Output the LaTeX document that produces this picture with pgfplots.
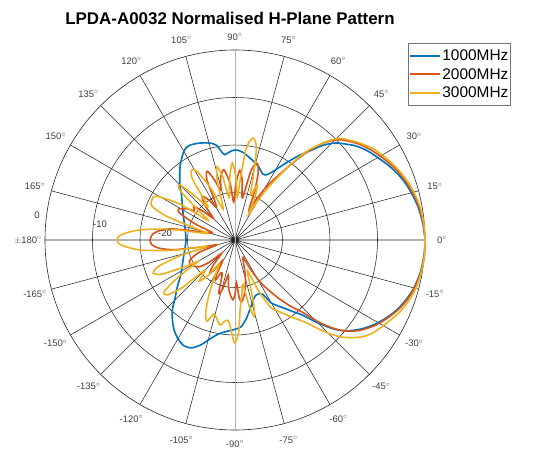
\documentclass[border=0pt]{standalone}
\usepackage{pgfplots}
\pgfplotsset{compat=1.18}
\usepackage{pgfplotstable}
\usepgfplotslibrary{polar}
\usepackage{fontspec}
\setmainfont{Liberation Sans}

\definecolor{c1}{RGB}{0,114,189}
\definecolor{c2}{RGB}{217,83,25}
\definecolor{c3}{RGB}{237,177,32}

% angle (deg) and normalised gain (dB)
\pgfplotstableread[row sep=\\]{
a d\\
-180 -29.7\\ -170 -29.3\\ -160 -28.4\\ -150 -27.0\\ -145 -25.8\\ -140 -24.0\\ -136 -22.5\\ -132 -20.3\\
-128 -18.6\\ -124 -17.1\\ -120 -16.0\\ -116 -15.3\\ -112 -15.5\\ -108 -16.8\\ -104 -18.6\\ -100 -19.9\\
-95 -20.7\\ -90 -21.2\\ -86 -21.7\\ -82 -23.2\\ -78 -25.0\\ -74 -26.5\\ -70 -27.5\\ -66 -27.6\\
-63 -27.2\\ -60 -24.7\\ -57 -23.5\\ -54 -22.2\\ -51 -20.6\\ -48 -18.7\\ -45 -15.3\\ -42 -12.0\\
-39 -9.6\\ -35 -7.4\\ -31 -5.6\\ -27 -4.1\\ -23 -2.8\\ -19 -1.8\\ -15 -1.0\\ -10 -0.4\\ -5 -0.1\\
0 0\\ 5 -0.3\\ 10 -0.8\\ 14 -1.4\\ 18 -2.1\\ 22 -3.0\\ 26 -4.1\\ 30 -5.3\\ 34 -6.4\\ 38 -7.8\\
41 -9.2\\ 44 -10.6\\ 47 -12.7\\ 50 -15.5\\ 53 -17.8\\ 56 -20.2\\ 59 -22.3\\ 62 -24.0\\ 65 -24.9\\
68 -24.8\\ 72 -23.8\\ 76 -23.1\\ 80 -22.4\\ 84 -21.6\\ 88 -21.1\\ 91 -21.1\\ 94 -21.5\\ 97 -21.9\\
99 -21.0\\ 101 -19.7\\ 104 -19.0\\ 108 -18.5\\ 112 -18.1\\ 116 -17.9\\ 119 -18.2\\ 122 -19.1\\
126 -20.4\\ 130 -21.9\\ 135 -23.6\\ 140 -25.3\\ 147 -26.8\\ 155 -28.0\\ 162 -28.8\\ 170 -29.4\\ 180 -29.7\\
}\tblA

\pgfplotstableread[row sep=\\]{
a d\\
-180 -22.1\\ -177 -22.4\\ -174 -23.8\\ -171 -27.0\\ -168 -33.0\\ -165 -36.0\\ -161 -32.0\\ -156 -29.6\\
-151 -29.2\\ -147 -29.8\\ -143 -30.6\\ -139 -33.0\\ -135 -36.0\\ -131 -33.0\\ -127 -31.2\\ -124 -33.0\\
-121 -35.0\\ -118 -31.5\\ -116 -30.6\\ -113 -32.5\\ -110 -32.0\\ -107 -28.2\\ -104 -29.5\\ -101 -32.5\\
-98 -30.0\\ -95 -28.5\\ -92 -27.4\\ -90 -28.5\\ -88 -31.0\\ -86 -28.0\\ -84 -26.9\\ -81 -28.0\\
-78 -29.7\\ -75 -31.5\\ -72 -33.5\\ -68 -35.5\\ -65 -36.0\\ -62 -33.0\\ -59 -29.5\\ -56 -27.2\\
-53 -24.5\\ -50 -21.8\\ -47 -19.2\\ -44 -14.7\\ -41 -11.2\\ -38 -8.8\\ -35 -7.1\\ -31 -5.3\\
-27 -3.9\\ -23 -2.6\\ -19 -1.6\\ -15 -0.9\\ -10 -0.3\\ -5 0\\ 0 0\\ 5 -0.2\\ 10 -0.6\\ 14 -1.1\\
18 -1.8\\ 22 -2.6\\ 26 -3.6\\ 30 -4.7\\ 34 -5.8\\ 38 -7.1\\ 41 -8.3\\ 44 -9.6\\ 47 -11.8\\ 50 -15.0\\
53 -19.5\\ 56 -23.5\\ 59 -26.5\\ 62 -30.0\\ 65 -33.0\\ 68 -29.0\\ 71 -25.0\\ 74 -23.2\\ 77 -25.0\\
80 -31.0\\ 83 -27.5\\ 86 -25.3\\ 89 -28.0\\ 92 -32.0\\ 95 -28.0\\ 99 -25.0\\ 103 -26.5\\ 106 -29.0\\
109 -26.5\\ 112 -24.4\\ 115 -26.0\\ 119 -32.0\\ 123 -30.0\\ 127 -28.5\\ 131 -30.5\\ 135 -33.5\\
138 -31.0\\ 141 -28.8\\ 144 -29.5\\ 147 -28.0\\ 151 -26.5\\ 154 -27.0\\ 158 -31.0\\ 162 -35.0\\
166 -33.0\\ 170 -26.5\\ 173 -24.0\\ 176 -22.6\\ 180 -22.1\\
}\tblB

\pgfplotstableread[row sep=\\]{
a d\\
-180 -15.2\\ -178 -15.6\\ -176 -17.5\\ -174 -19.9\\ -172 -24.0\\ -170 -28.0\\ -167 -34.0\\ -164 -28.0\\
-161 -23.0\\ -158 -21.4\\ -155 -23.0\\ -152 -28.0\\ -150 -31.0\\ -147 -26.0\\ -144 -21.6\\ -141 -21.6\\
-138 -25.0\\ -135 -31.0\\ -131 -28.5\\ -127 -30.7\\ -124 -34.0\\ -121 -33.0\\ -118 -30.0\\ -115 -26.8\\
-112 -23.5\\ -109 -21.9\\ -106 -23.8\\ -103 -23.0\\ -100 -21.8\\ -97 -22.8\\ -95 -23.0\\ -93 -21.7\\
-91 -19.0\\ -90 -18.3\\ -89 -19.0\\ -87.5 -21.0\\ -86 -24.9\\ -83 -28.3\\ -80 -30.5\\ -78 -26.0\\
-76 -23.4\\ -74 -25.5\\ -71 -30.5\\ -68 -33.0\\ -65 -28.0\\ -62 -23.9\\ -59 -22.6\\ -55 -20.6\\
-52 -18.9\\ -49 -16.8\\ -46 -13.4\\ -43 -10.2\\ -40 -8.0\\ -37 -6.2\\ -34 -5.0\\ -31 -4.2\\
-27 -3.1\\ -23 -2.0\\ -19 -1.2\\ -15 -0.6\\ -10 -0.2\\ -5 0\\ 0 0\\ 5 -0.1\\ 10 -0.4\\ 14 -0.9\\
18 -1.5\\ 22 -2.3\\ 26 -3.2\\ 30 -4.2\\ 34 -5.3\\ 38 -6.8\\ 41 -8.0\\ 44 -9.2\\ 47 -11.6\\ 50 -14.8\\
52 -17.4\\ 54 -21.0\\ 56 -24.5\\ 58 -27.5\\ 60 -30.5\\ 62 -34.0\\ 65 -30.0\\ 68 -27.5\\ 71 -30.0\\
74 -26.0\\ 77 -20.0\\ 80 -18.2\\ 83 -20.5\\ 85 -27.0\\ 87 -31.0\\ 89 -27.0\\ 92 -23.8\\ 95 -27.0\\
98 -31.0\\ 101 -26.5\\ 104 -24.1\\ 107 -27.5\\ 111 -33.0\\ 115 -28.0\\ 119 -23.5\\ 122 -22.7\\
125 -24.5\\ 129 -31.0\\ 132 -28.0\\ 135 -23.5\\ 138 -24.5\\ 141 -30.0\\ 144 -33.0\\ 147 -26.0\\
151 -21.0\\ 155 -20.6\\ 158 -21.2\\ 161 -25.0\\ 164 -32.0\\ 167 -34.0\\ 170 -28.0\\ 172 -23.5\\
174 -19.8\\ 176 -17.3\\ 178 -15.6\\ 180 -15.2\\
}\tblC

\begin{document}
\begin{tikzpicture}
\begin{polaraxis}[
    scale only axis, width=380bp, height=380bp,
    xmin=0, xmax=360, ymin=0, ymax=40,
    xtick={0,15,...,75,105,120,...,255,285,300,...,345},
    ytick={10,20,30},
    xticklabel=\relax, yticklabel=\relax,
    major tick length=0pt,
    grid=major,
    major grid style={black!85, line width=0.55bp},
    extra x ticks={90,270},
    extra x tick labels={},
    extra x tick style={grid=major, major grid style={black!30, line width=0.7bp}, xticklabel=\relax},
    separate axis lines,
    x axis line style={black!85, line width=0.6bp},
    y axis line style={draw=none},
    clip=false,
    legend cell align=left,
    legend style={at={(1.226,1.018)}, anchor=north east,
        draw=black!55, line width=0.5bp, inner xsep=1bp, inner ysep=5bp,
        row sep=4bp,
        font=\fontsize{15.5}{16}\selectfont,
        nodes={inner sep=1.2bp}},
    legend image code/.code={\draw[#1, line width=2bp] (0bp,0bp) -- (30bp,0bp);},
]
\addplot[c1, line width=1.6bp, smooth, tension=0.45] table[x=a, y expr=\thisrow{d}+40] {\tblA};
\addlegendentry{1000MHz}
\addplot[c2, line width=1.6bp, smooth, tension=0.45] table[x=a, y expr=\thisrow{d}+40] {\tblB};
\addlegendentry{2000MHz}
\addplot[c3, line width=1.6bp, smooth, tension=0.45] table[x=a, y expr=\thisrow{d}+40] {\tblC};
\addlegendentry{3000MHz}
\coordinate (c) at (axis cs:0,0);
\end{polaraxis}

% angle labels round the rim
\foreach \a/\t in {0/0,15/15,30/30,45/45,60/60,75/75,105/105,120/120,135/135,150/150,165/165,
    195/-165,210/-150,225/-135,240/-120,255/-105,285/-75,300/-60,315/-45,330/-30,345/-15}
    \node[font=\fontsize{9.5}{10}\selectfont, text=black!75, inner sep=0pt] at ([shift={(\a:207bp)}]c) {\t$^\circ$};
\node[font=\fontsize{9.5}{10}\selectfont, text=black!75, inner sep=0pt] at ([shift={(90:203bp)}]c) {90$^\circ$};
\node[font=\fontsize{9.5}{10}\selectfont, text=black!75, inner sep=0pt] at ([shift={(270:204bp)}]c) {-90$^\circ$};
\node[font=\fontsize{9.5}{10}\selectfont, text=black!75, inner sep=0pt] at ([shift={(180:207bp)}]c) {$\pm$180$^\circ$};

% radial (dB) labels
\node[font=\fontsize{9.5}{10}\selectfont, text=black!80, inner sep=0pt] at ([shift={(-198bp,25bp)}]c) {0};
\node[font=\fontsize{9.5}{10}\selectfont, text=black!80, inner sep=0pt] at ([shift={(-135bp,16bp)}]c) {-10};
\node[font=\fontsize{9.5}{10}\selectfont, text=black!80, inner sep=0pt] at ([shift={(-70bp,7bp)}]c) {-20};

\node[font=\bfseries\fontsize{17}{20}\selectfont, inner sep=0pt] at ([shift={(-5bp,222bp)}]c) {LPDA-A0032 Normalised H-Plane Pattern};

\pgfresetboundingbox
\path[use as bounding box] ([shift={(-235bp,240bp)}]c) rectangle ([shift={(298bp,-210bp)}]c);
\end{tikzpicture}
\end{document}
